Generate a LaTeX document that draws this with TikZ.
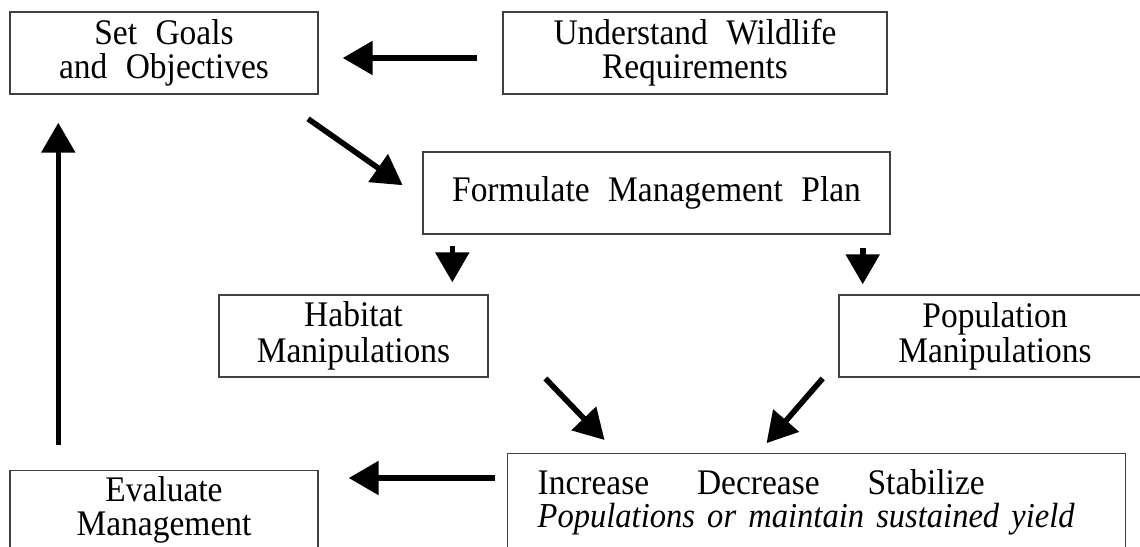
\documentclass[tikz,border=0pt]{standalone}
\usepackage{fontspec}
\setmainfont{Liberation Serif}[FakeStretch=0.93, WordSpace=2.2]
\usetikzlibrary{arrows.meta}

\begin{document}
\begin{tikzpicture}[x=0.5pt, y=-0.5pt,
	box/.style={draw=black!75, line width=0.7pt, inner sep=0pt, align=center,
				minimum height=41pt},
	big/.style={-{Triangle[length=15pt, width=16.5pt]}, line width=2.8pt}]
	\useasboundingbox (0,0) rectangle (1140,546);
	\clip (0,0) rectangle (1140,546);

	\draw (164,53) node[box, minimum width=154pt,
					 font=\fontsize{18}{17}\selectfont](goals){Set Goals\\and Objectives};
	\draw (695,53) node[box, minimum width=192pt,
					 font=\fontsize{18}{17}\selectfont](wildlife){Understand Wildlife\\Requirements};
	\draw (656.5,193) node[box, minimum width=233.5pt,
					 font=\fontsize{18}{17}\selectfont](plan){Formulate Management Plan};
	\draw (353.5,336) node[box, minimum width=134.5pt,
					 font=\fontsize{18}{18}\selectfont](habitat){Habitat\\Manipulations};
	\draw (995,336) node[box, minimum width=156pt,
					 font=\fontsize{18}{17.5}\selectfont](population){Population\\Manipulations};
	\draw (164,470) node[box, anchor=north, minimum width=154pt, minimum height=0pt,
					 inner ysep=3pt, text depth=14pt,
					 font=\fontsize{18}{17}\selectfont](evaluate){Evaluate\\Management};
	\draw (507,453) node[box, anchor=north west, minimum height=0pt, align=left,
					 inner xsep=15pt, inner ysep=8pt, text width=279pt,
					 font=\fontsize{18}{16.5}\selectfont](increase){%
		\makebox[223.5pt][l]{Increase\hfill Decrease\hfill Stabilize}\\
		\makebox[268.5pt][l]{\fontsize{17.5}{16.5}\selectfont\itshape Populations\hfill or\hfill maintain\hfill sustained\hfill yield}};

	\draw [big, shorten <=12.5pt, shorten >=12pt]([yshift=-2.5pt]wildlife.west) -- ([yshift=-2.5pt]goals.east);
	\draw [big, shorten <=21pt, shorten >=12pt]([xshift=-22.5pt]goals.south east) -- ([yshift=-3pt]plan.west);
	\draw [big, shorten <=5.5pt, shorten >=6pt]([xshift=15pt]plan.south west) -- ([xshift=15pt]plan.south west |- habitat.north);
	\draw [big, shorten <=6.5pt, shorten >=5pt]([xshift=-14pt]plan.south east) -- ([xshift=-14pt]plan.south east |- population.north);
	\draw [big, shorten <=0.5pt, shorten >=9pt]([xshift=28pt]habitat.south east) -- ([xshift=55pt]increase.north west);
	\draw [big, shorten <=0.5pt, shorten >=6.5pt]([xshift=-7.5pt]population.south west) -- ([xshift=125.5pt]increase.north west);
	\draw [big, shorten <=6pt, shorten >=15pt]([yshift=-12.5pt]increase.north west) -- ([yshift=-12.5pt]increase.north west -| evaluate.east);
	\draw [big, shorten <=12.5pt, shorten >=14pt]([xshift=24.5pt]evaluate.north west) -- ([xshift=24.5pt]evaluate.north west |- goals.south);
\end{tikzpicture}
\end{document}
